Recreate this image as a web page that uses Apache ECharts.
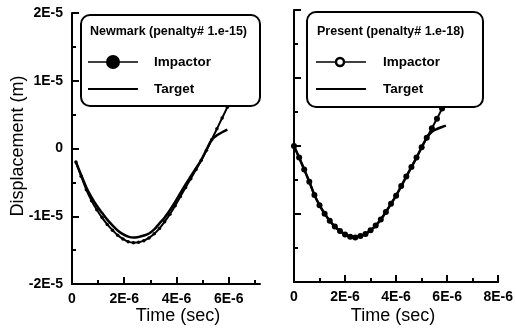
<!DOCTYPE html>
<html>
<head>
<meta charset="utf-8">
<script src="https://cdn.jsdelivr.net/npm/echarts@6/dist/echarts.min.js"></script>
<style>html,body{margin:0;padding:0;background:#fff}#c{width:516px;height:330px}</style>
</head>
<body>
<div id="c"></div>
<script>
// Time in units of 1E-6 s, displacement in units of 1E-6 m
var xTickValues = [0, 2, 4, 6, 8];
var xTickText = ['0', '2E-6', '4E-6', '6E-6', '8E-6'];
var yTickValues = [-20, -10, 0, 10, 20];
var yTickText = ['-2E-5', '-1E-5', '0', '1E-5', '2E-5'];

// Left panel: Newmark
var tLeft = [0.15,0.35,0.55,0.75,0.95,1.15,1.35,1.55,1.75,1.95,2.15,2.35,2.55,2.75,2.95,3.15,3.35,3.55,3.75,3.95,4.15,4.35,4.55,4.75,4.95,5.15,5.35,5.55,5.75,5.95];
var leftImpactor = [-2.0,-4.1,-6.1,-7.7,-9.05,-10.2,-11.2,-12.05,-12.8,-13.35,-13.75,-13.9,-13.85,-13.6,-13.2,-12.6,-11.8,-10.8,-9.7,-8.45,-7.1,-5.75,-4.45,-3.1,-1.75,-0.25,1.3,2.9,4.5,6.1];
var leftTarget = [-2.0,-3.9,-5.75,-7.2,-8.45,-9.5,-10.5,-11.35,-12.1,-12.65,-13.0,-13.15,-13.05,-12.85,-12.55,-11.95,-11.05,-10.2,-9.1,-7.9,-6.6,-5.3,-4.1,-2.9,-1.7,-0.2,1.3,1.95,2.4,2.8];

// Right panel: Present
var tRight = [0,0.2,0.4,0.6,0.8,1.0,1.2,1.4,1.6,1.8,2.0,2.2,2.4,2.6,2.8,3.0,3.2,3.4,3.6,3.8,4.0,4.2,4.4,4.6,4.8,5.0,5.2,5.4,5.6,5.8];
var rightImpactor = [0,-1.7,-3.45,-5.25,-7.2,-8.7,-9.95,-11.0,-11.85,-12.5,-13.0,-13.35,-13.45,-13.25,-12.95,-12.4,-11.7,-10.8,-9.7,-8.5,-7.3,-5.9,-4.5,-3.1,-1.7,-0.2,1.2,2.6,4.0,5.5];
var tRightTarget = [0,0.2,0.4,0.6,0.8,1.0,1.2,1.4,1.6,1.8,2.0,2.2,2.4,2.6,2.8,3.0,3.2,3.4,3.6,3.8,4.0,4.2,4.4,4.6,4.8,5.0,5.2,5.4,5.6,5.8,5.95];
var rightTarget = [0,-1.7,-3.45,-5.25,-7.2,-8.7,-9.95,-11.0,-11.85,-12.5,-13.0,-13.35,-13.45,-13.25,-12.95,-12.4,-11.7,-10.8,-9.7,-8.5,-7.3,-5.9,-4.5,-3.1,-1.7,-0.2,1.2,2.1,2.5,2.8,3.0];

function pairs(xs, ys) { return xs.map(function (x, i) { return [x, ys[i]]; }); }
function xFmt(v) { var i = xTickValues.indexOf(v); return i < 0 ? '' : xTickText[i]; }
function yFmt(v) { var i = yTickValues.indexOf(v); return i < 0 ? '' : yTickText[i]; }

var FONT = '"Liberation Sans", Arial, sans-serif';
var axisLine = { show: true, onZero: false, lineStyle: { color: '#000', width: 2 } };
var labelStyle = { color: '#000', fontFamily: FONT, fontSize: 14, fontWeight: 'bold' };

var chart = echarts.init(document.getElementById('c'), null, { renderer: 'canvas' });
chart.setOption({
  animation: false,
  backgroundColor: '#fff',
  grid: [
    { left: 72, top: 13, width: 188, height: 271 },
    { left: 294, top: 10, width: 206, height: 272 }
  ],
  xAxis: [
    { type: 'value', gridIndex: 0, position: 'bottom', min: 0, max: 7.2, interval: 2,
      axisLine: axisLine,
      axisTick: { show: true, inside: true, length: 7, customValues: [0, 2, 4, 6], lineStyle: { color: '#000', width: 2 } },
      minorTick: { show: false },
      axisLabel: Object.assign({ margin: 8, customValues: [0, 2, 4, 6], formatter: xFmt }, labelStyle),
      splitLine: { show: false } },
    { type: 'value', gridIndex: 0, position: 'bottom', min: 0, max: 7.2, interval: 1,
      axisLine: { show: false, onZero: false },
      axisTick: { show: true, inside: true, length: 4, customValues: [1, 3, 5, 7], lineStyle: { color: '#000', width: 2 } },
      axisLabel: { show: false },
      splitLine: { show: false } },
    { type: 'value', gridIndex: 1, position: 'bottom', min: 0, max: 8, interval: 2,
      axisLine: axisLine,
      axisTick: { show: true, inside: true, length: 7, lineStyle: { color: '#000', width: 2 } },
      minorTick: { show: true, splitNumber: 2, length: 4, lineStyle: { color: '#000', width: 2 } },
      axisLabel: Object.assign({ margin: 8, formatter: xFmt }, labelStyle),
      splitLine: { show: false } }
  ],
  yAxis: [
    { type: 'value', gridIndex: 0, min: -20, max: 20, interval: 10,
      axisLine: axisLine,
      axisTick: { show: true, inside: true, length: 7, lineStyle: { color: '#000', width: 2 } },
      minorTick: { show: true, splitNumber: 2, length: 4, lineStyle: { color: '#000', width: 2 } },
      axisLabel: Object.assign({ margin: 9, formatter: yFmt }, labelStyle),
      splitLine: { show: false } },
    { type: 'value', gridIndex: 1, min: -20, max: 20, interval: 10,
      axisLine: axisLine,
      axisTick: { show: true, inside: true, length: 7, lineStyle: { color: '#000', width: 2 } },
      minorTick: { show: true, splitNumber: 2, length: 4, lineStyle: { color: '#000', width: 2 } },
      axisLabel: { show: false },
      splitLine: { show: false } }
  ],
  series: [
    { type: 'line', xAxisIndex: 0, yAxisIndex: 0, data: pairs(tLeft, leftTarget),
      smooth: 0.3, symbol: 'none', lineStyle: { color: '#000', width: 2.5 } },
    { type: 'line', xAxisIndex: 0, yAxisIndex: 0, data: pairs(tLeft, leftImpactor),
      smooth: 0.3, symbol: 'circle', symbolSize: 3.5, showAllSymbol: true,
      itemStyle: { color: '#000' }, lineStyle: { color: '#000', width: 2 } },
    { type: 'line', xAxisIndex: 2, yAxisIndex: 1, data: pairs(tRightTarget, rightTarget),
      smooth: 0.3, symbol: 'none', lineStyle: { color: '#000', width: 2.5 } },
    { type: 'line', xAxisIndex: 2, yAxisIndex: 1, data: pairs(tRight, rightImpactor),
      smooth: 0.3, symbol: 'circle', symbolSize: 6, showAllSymbol: true,
      itemStyle: { color: '#000' }, lineStyle: { color: '#000', width: 2 } }
  ],
  graphic: [
    { type: 'text', x: 18, y: 146, rotation: Math.PI / 2, z: 50,
      style: { text: 'Displacement (m)', fill: '#000', font: '18px ' + FONT, align: 'center', verticalAlign: 'middle' } },
    { type: 'text', x: 178, y: 316, z: 50,
      style: { text: 'Time (sec)', fill: '#000', font: '18px ' + FONT, align: 'center', verticalAlign: 'middle' } },
    { type: 'text', x: 393, y: 316, z: 50,
      style: { text: 'Time (sec)', fill: '#000', font: '18px ' + FONT, align: 'center', verticalAlign: 'middle' } },
    // Left legend
    { type: 'rect', z: 100, shape: { x: 81, y: 15, width: 179, height: 91, r: 9 },
      style: { fill: '#fff', stroke: '#000', lineWidth: 2 } },
    { type: 'text', z: 101, x: 90, y: 32,
      style: { text: 'Newmark (penalty# 1.e-15)', fill: '#000', font: 'bold 12.5px ' + FONT, verticalAlign: 'middle' } },
    { type: 'line', z: 101, shape: { x1: 88, y1: 62, x2: 138, y2: 62 }, style: { stroke: '#000', lineWidth: 1.5 } },
    { type: 'circle', z: 102, shape: { cx: 113, cy: 62, r: 7 }, style: { fill: '#000' } },
    { type: 'text', z: 101, x: 154, y: 62,
      style: { text: 'Impactor', fill: '#000', font: 'bold 13.5px ' + FONT, verticalAlign: 'middle' } },
    { type: 'line', z: 101, shape: { x1: 88, y1: 89, x2: 138, y2: 89 }, style: { stroke: '#000', lineWidth: 2 } },
    { type: 'text', z: 101, x: 154, y: 89,
      style: { text: 'Target', fill: '#000', font: 'bold 13.5px ' + FONT, verticalAlign: 'middle' } },
    // Right legend
    { type: 'rect', z: 100, shape: { x: 307, y: 12, width: 176, height: 95, r: 9 },
      style: { fill: '#fff', stroke: '#000', lineWidth: 2 } },
    { type: 'text', z: 101, x: 317, y: 32,
      style: { text: 'Present (penalty# 1.e-18)', fill: '#000', font: 'bold 12.5px ' + FONT, verticalAlign: 'middle' } },
    { type: 'line', z: 101, shape: { x1: 316, y1: 62, x2: 366, y2: 62 }, style: { stroke: '#000', lineWidth: 1.5 } },
    { type: 'circle', z: 102, shape: { cx: 340, cy: 62, r: 4 }, style: { fill: '#fff', stroke: '#000', lineWidth: 2.5 } },
    { type: 'text', z: 101, x: 383, y: 62,
      style: { text: 'Impactor', fill: '#000', font: 'bold 13.5px ' + FONT, verticalAlign: 'middle' } },
    { type: 'line', z: 101, shape: { x1: 316, y1: 89, x2: 366, y2: 89 }, style: { stroke: '#000', lineWidth: 2 } },
    { type: 'text', z: 101, x: 383, y: 89,
      style: { text: 'Target', fill: '#000', font: 'bold 13.5px ' + FONT, verticalAlign: 'middle' } }
  ]
});
</script>
</body>
</html>
